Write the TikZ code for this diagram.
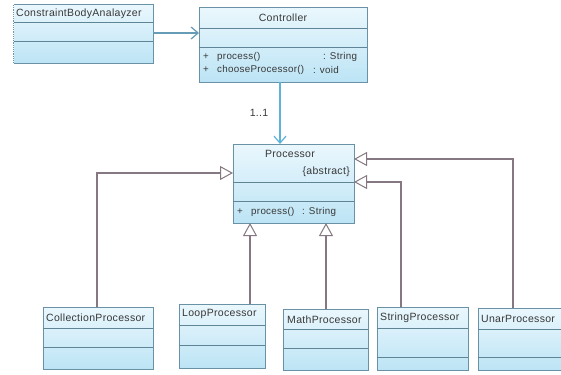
\documentclass[tikz,border=0pt]{standalone}
\usepackage{fontspec}
\setmainfont{Liberation Sans}[LetterSpace=3]
\usetikzlibrary{arrows.meta}
\definecolor{boxtop}{HTML}{EAF7FD}
\definecolor{boxbot}{HTML}{BCE4F5}
\definecolor{boxline}{HTML}{6A92A6}
\definecolor{divline}{HTML}{5E8496}
\definecolor{inhline}{HTML}{857882}
\definecolor{assline}{HTML}{5DB2DA}
\definecolor{txt}{HTML}{383838}
\tikzset{
  box/.style={draw=boxline, line width=1pt, top color=boxtop, bottom color=boxbot,
    inner sep=0pt, anchor=north west},
  divider/.style={draw=divline, line width=1pt},
  dotover/.style={draw=white, line width=1pt, dash pattern=on 1pt off 1.2pt},
  lbl/.style={inner sep=0pt, text=txt, font=\fontsize{10.5}{12}\selectfont},
  mlbl/.style={lbl, anchor=west, font=\fontsize{9.8}{11}\selectfont},
  inh/.style={draw=inhline, line width=1.4pt, -{Triangle[open, length=13pt, width=14pt, fill=white, line width=1pt]}},
  assoc/.style={draw=assline, line width=1.2pt, -{Straight Barb[length=7pt, width=12pt]}},
}
\begin{document}
\begin{tikzpicture}[x=1pt, y=-1pt]
\useasboundingbox (0,0) rectangle (561,374);

% ConstraintBodyAnalayzer
\node[box, minimum width=140pt, minimum height=59pt] (cba) at (13,4) {};
\draw[divider] (13,23) -- (153,23);
\draw[divider] (13,42) -- (153,42);
\draw[dotover] (cba.north west) -- (cba.north east);
\draw[dotover] (cba.north west) -- (cba.south west);
\node[lbl, anchor=west] (cbat) at (16,13.5) {ConstraintBodyAnalayzer};

% Controller
\node[box, minimum width=168pt, minimum height=75pt] (ctl) at (199,7) {};
\draw[divider] (199,29) -- (367,29);
\draw[divider] (199,48) -- (367,48);
\node[lbl] (ctlt) at (283,18) {Controller};
\node[mlbl] (ctlp1) at (203,57) {+};
\node[mlbl] (ctlm1) at (217,57) {process()};
\node[mlbl] (ctlr1) at (323,57) {: String};
\node[mlbl] (ctlp2) at (203,70) {+};
\node[mlbl] (ctlm2) at (217,70) {chooseProcessor()};
\node[mlbl] (ctlr2) at (313,70) {: void};

% Processor
\node[box, minimum width=121pt, minimum height=79pt] (proc) at (233,144) {};
\draw[divider] (233,182) -- (354,182);
\draw[divider] (233,201) -- (354,201);
\node[lbl] (proct) at (290,154) {Processor};
\node[lbl, anchor=east] (proca) at (350,172) {\{abstract\}};
\node[mlbl] (procp) at (237,212) {+};
\node[mlbl] (procm) at (251,212) {process()};
\node[mlbl] (procr) at (302,212) {: String};

% bottom classes
\node[box, minimum width=110pt, minimum height=62pt] (coll) at (43,307) {};
\draw[divider] (43,328) -- (153,328);
\draw[divider] (43,347) -- (153,347);
\draw[dotover] (coll.south west) -- (coll.south east);
\node[lbl, anchor=west] (collt) at (46,317.5) {CollectionProcessor};

\node[box, minimum width=86pt, minimum height=64pt] (loop) at (179,304) {};
\draw[divider] (179,325) -- (265,325);
\draw[divider] (179,345) -- (265,345);
\draw[dotover] (loop.south west) -- (loop.south east);
\node[lbl, anchor=west] (loopt) at (182,314) {LoopProcessor};

\node[box, minimum width=85pt, minimum height=61pt] (math) at (283,309) {};
\draw[divider] (283,329) -- (368,329);
\draw[divider] (283,348) -- (368,348);
\draw[dotover] (math.south west) -- (math.south east);
\node[lbl, anchor=west] (matht) at (287,319.5) {MathProcessor};

\node[box, minimum width=91pt, minimum height=63pt] (str) at (377,307) {};
\draw[divider] (377,328) -- (468,328);
\draw[divider] (377,357) -- (468,357);
\draw[dotover] (str.south west) -- (str.south east);
\node[lbl, anchor=west] (strt) at (380,317.5) {StringProcessor};

\node[box, minimum width=90pt, minimum height=62pt] (una) at (478,308) {};
\draw[divider] (478,329) -- (568,329);
\draw[divider] (478,357) -- (568,357);
\draw[dotover] (una.south west) -- (una.south east);
\node[lbl, anchor=west] (unat) at (481,318.5) {UnarProcessor};

% connector endpoints on Processor
\coordinate (pL) at (233,173);
\coordinate (pR1) at (354,159);
\coordinate (pR2) at (354,182);
\coordinate (pB1) at (250,223);
\coordinate (pB2) at (326,223);
\coordinate (cB) at (280,82);
\coordinate (pT) at (280,144);
\coordinate (cbaR) at (153,33);
\coordinate (ctlL) at (199,33);

% associations
\draw[assoc, draw=boxline!70!assline] (cbaR) -- (ctlL);
\draw[assoc] (cB) -- (pT);
\node[lbl] (mult) at (259,113) {1..1};

% inheritance
\draw[inh] (coll.north -| 97,0) |- (pL);
\draw[inh] (loop.north -| pB1) -- (pB1);
\draw[inh] (math.north -| pB2) -- (pB2);
\draw[inh] (str.north -| 401,0) |- (pR2);
\draw[inh] (una.north -| 513,0) |- (pR1);
\end{tikzpicture}
\end{document}
